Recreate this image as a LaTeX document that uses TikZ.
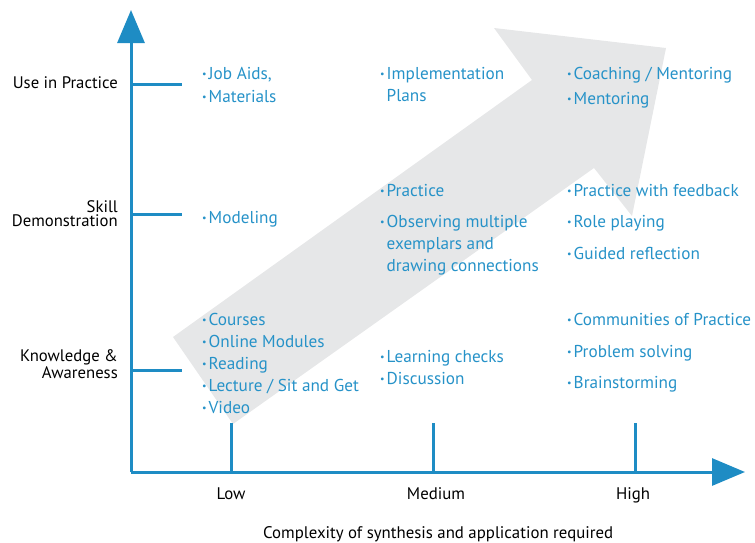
\documentclass[tikz,border=0pt]{standalone}
\usepackage{fontspec}
\setmainfont{PT Sans}
\usetikzlibrary{arrows.meta}
\definecolor{axiscol}{RGB}{30,140,196}
\definecolor{itemcol}{RGB}{38,146,200}
\definecolor{bandcol}{RGB}{230,231,232}
\newcommand{\itm}{\raisebox{0.18ex}{\fontsize{10}{10}\selectfont\textbullet}\hspace{2pt}}
\newcommand{\stack}[1]{\begin{tabular}[t]{@{}l@{}}#1\end{tabular}}

\begin{document}
\begin{tikzpicture}[x=1pt, y=-1pt,
  axis/.style={draw=axiscol, line width=3pt},
  tip/.style={-{Triangle[length=33pt, width=27pt]}},
  item/.style={anchor=base west, inner sep=0pt, text=itemcol, font=\fontsize{17.2}{22}\selectfont},
  level/.style={anchor=base east, inner sep=0pt, align=right, font=\fontsize{16.7}{14}\selectfont},
  scale label/.style={anchor=base, inner sep=0pt, font=\fontsize{16.8}{18}\selectfont}]
\useasboundingbox (0,0) rectangle (755,542);

% wide grey arrow in the background
\fill[bandcol] (173,337) -- (532,80) -- (494,28) -- (666,48) -- (632,216)
  -- (594,168) -- (233,424) -- cycle;

% axes
\coordinate (origin) at (131,472);
\coordinate (ytop) at (131,10);
\coordinate (xend) at (745,472);
\draw[axis, tip] (origin) -- (ytop);
\draw[axis, tip] (origin) -- (xend);

% ticks on the vertical axis
\coordinate (use) at (131,84);
\coordinate (skill) at (131,214);
\coordinate (know) at (131,370);
\foreach \t in {use, skill, know}
  \draw[axis] (\t) -- ++(51,0);

% ticks on the horizontal axis
\coordinate (low) at (231,472);
\coordinate (med) at (433,472);
\coordinate (high) at (635,472);
\foreach \t in {low, med, high}
  \draw[axis] (\t) -- ++(0,-49);

% level names
\node[level] (lvluse) at (118,88) {Use in Practice};
\node[level] (lvlskill) at (118,226) {Skill\\Demonstration};
\node[level] (lvlknow) at (118,378) {Knowledge \&\\Awareness};

% complexity names
\node[scale label] (lowlbl) at (231,499) {Low};
\node[scale label] (medlbl) at (436,499) {Medium};
\node[scale label] (highlbl) at (633,499) {High};
\node[scale label, anchor=base west] (xtitle) at (263,538) {Complexity of synthesis and application required};

% low complexity
\node[item] (jobaids) at (202,79) {\itm Job Aids,};
\node[item] (materials) at (202,102) {\itm Materials};
\node[item] (modeling) at (202,223) {\itm Modeling};
\node[item] (courses) at (202,325) {\itm Courses};
\node[item] (online) at (202,347) {\itm Online Modules};
\node[item] (reading) at (202,369) {\itm Reading};
\node[item] (lecture) at (202,391) {\itm Lecture / Sit and Get};
\node[item] (video) at (202,413) {\itm Video};

% medium complexity
\node[item] (implement) at (380,79) {\itm\stack{Implementation\\Plans}};
\node[item] (practice) at (380,196) {\itm Practice};
\node[item] (observing) at (380,227) {\itm\stack{Observing multiple\\exemplars and\\drawing connections}};
\node[item] (checks) at (380,362) {\itm Learning checks};
\node[item] (discussion) at (380,384) {\itm Discussion};

% high complexity
\node[item] (coaching) at (567,79) {\itm Coaching / Mentoring};
\node[item] (mentoring) at (567,104) {\itm Mentoring};
\node[item] (feedback) at (567,196) {\itm Practice with feedback};
\node[item] (roleplay) at (567,227) {\itm Role playing};
\node[item] (reflection) at (567,259) {\itm Guided reflection};
\node[item] (community) at (567,325) {\itm Communities of Practice};
\node[item] (problem) at (567,357) {\itm Problem solving};
\node[item] (brainstorm) at (567,388) {\itm Brainstorming};
\end{tikzpicture}
\end{document}
